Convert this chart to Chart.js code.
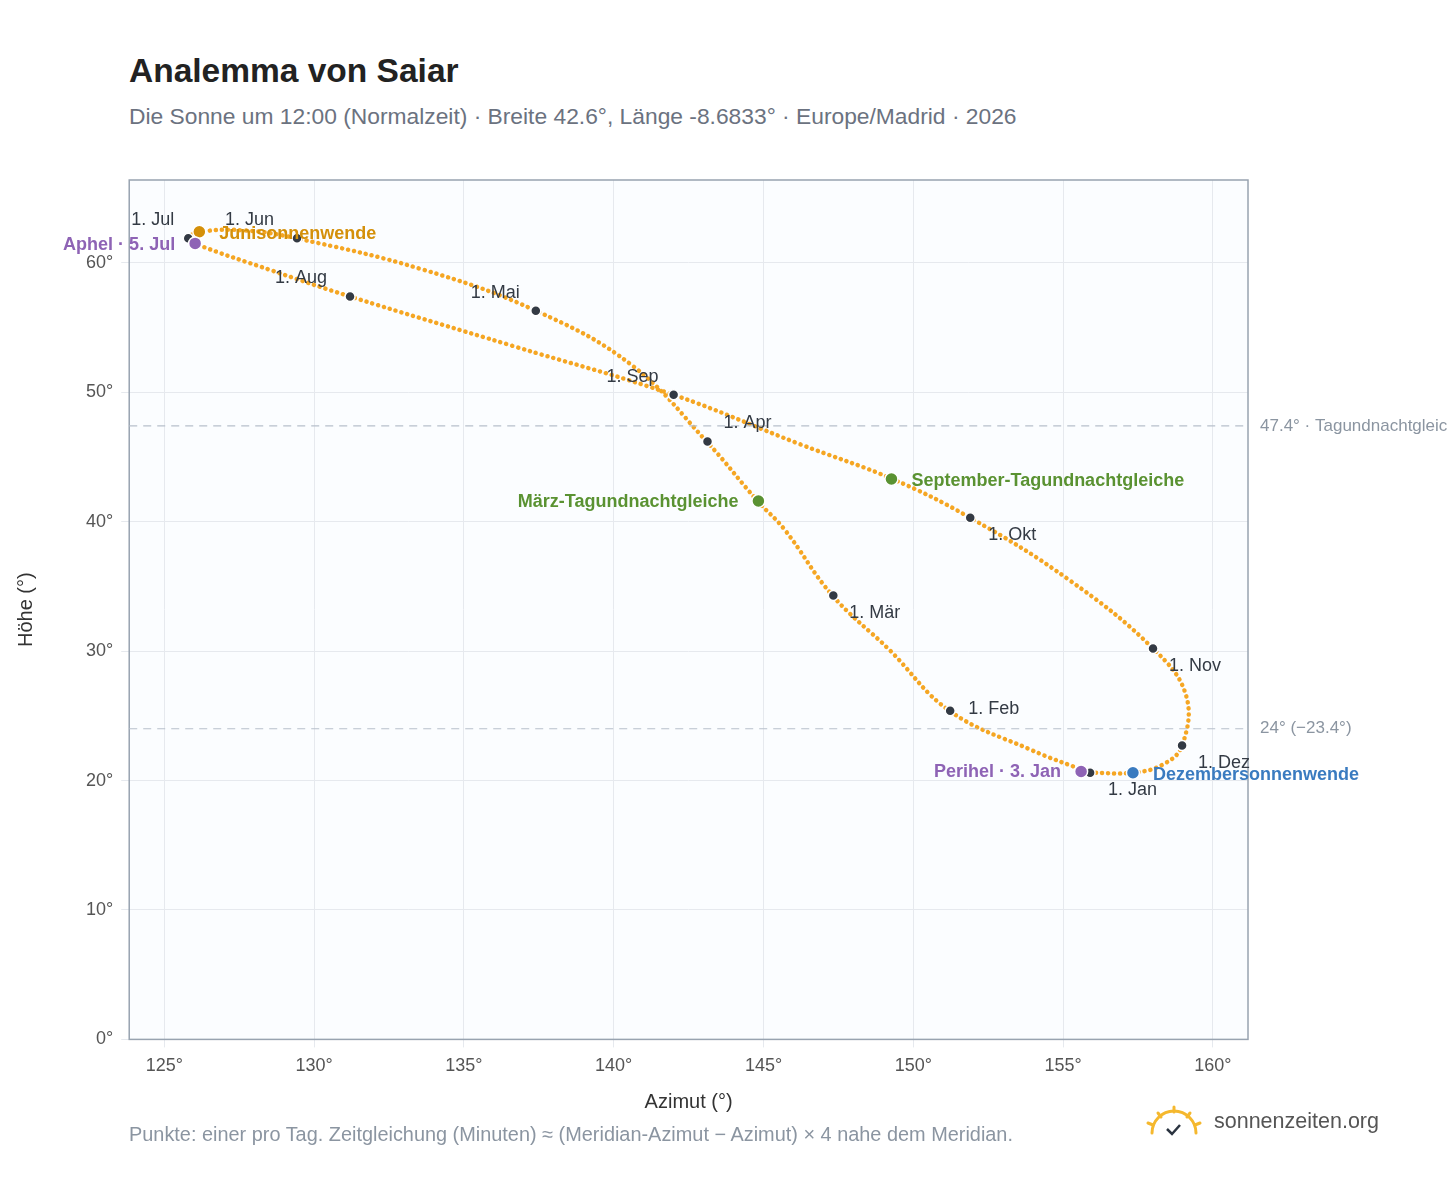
<!DOCTYPE html>
<html><head><meta charset="utf-8">
<script src="https://cdn.jsdelivr.net/npm/chart.js@4"></script>
<style>
body{margin:0;width:1448px;height:1188px;background:#fff;font-family:"Liberation Sans",Arial,sans-serif;position:relative;overflow:hidden}
#t{position:absolute;left:129px;top:52px;font-size:33.5px;font-weight:bold;color:#222}
#s{position:absolute;left:129px;top:103px;font-size:22.8px;color:#6b7280}
#c{position:absolute;left:0;top:150px;width:1448px;height:980px}
#f{position:absolute;left:129px;top:1123px;font-size:19.9px;color:#8b95a1}
#l{position:absolute;left:1146px;top:1105px;font-size:21.5px;color:#555}
</style></head><body>
<div id="t">Analemma von Saiar</div>
<div id="s">Die Sonne um 12:00 (Normalzeit) · Breite 42.6°, Länge -8.6833° · Europe/Madrid · 2026</div>
<div id="c"><canvas id="cv"></canvas></div>
<div id="f">Punkte: einer pro Tag. Zeitgleichung (Minuten) ≈ (Meridian-Azimut − Azimut) × 4 nahe dem Meridian.</div>
<div id="l"><svg width="56" height="34" style="vertical-align:middle"><g stroke="#f5b82e" stroke-width="3" stroke-linecap="round" fill="none"><path d="M6 28 A22 22 0 0 1 50 28"/><line x1="28" y1="2" x2="28" y2="7"/><line x1="12" y1="8" x2="15" y2="12"/><line x1="44" y1="8" x2="41" y2="12"/><line x1="2" y1="18" x2="7" y2="20"/><line x1="54" y1="18" x2="49" y2="20"/></g><path d="M21 24 L26 29 L34 20" stroke="#2b3440" stroke-width="2.5" fill="none"/></svg><span style="margin-left:12px">sonnenzeiten.org</span></div>
<script>
const azimuth=[155.9,153.9,151.2,149.2,147.3,145.7,144.8,143.1,140.6,137.4,133.6,129.4,127.7,126.2,125.8,126.0,128.6,131.2,136.6,142.0,146.2,149.3,151.9,155.2,158.0,159.1,158.97,158.3,157.3,156.0];
const altitude=[20.6,22.4,25.4,30.1,34.3,39.4,41.6,46.2,52.1,56.3,59.5,61.9,62.5,62.4,61.9,61.5,59.4,57.4,53.6,49.8,46.0,43.3,40.3,35.5,30.2,26.6,22.7,21.2,20.6,20.6];
const monthNames=["1. Jan","1. Feb","1. Mär","1. Apr","1. Mai","1. Jun","1. Jul","1. Aug","1. Sep","1. Okt","1. Nov","1. Dez"];
const monthAz=[155.9,151.23,147.33,143.13,137.4,129.43,125.8,131.2,142.0,151.9,158.0,158.97];
const monthAlt=[20.6,25.4,34.3,46.2,56.3,61.9,61.9,57.4,49.8,40.3,30.2,22.7];
const specialNames=["Junisonnenwende","Aphel · 5. Jul","März-Tagundnachtgleiche","September-Tagundnachtgleiche","Dezembersonnenwende","Perihel · 3. Jan"];
const specialAz=[126.17,126.03,144.83,149.27,157.33,155.6];
const specialAlt=[62.4,61.5,41.6,43.3,20.6,20.7];
const specialColors=["#d4900a","#8e63b5","#5a9232","#5a9232","#3a7bc0","#8e63b5"];
const refLines=[47.4,24];
const refLabels=["47.4° · Tagundnachtgleiche","24° (−23.4°)"];
const monthOff=[[18,17,'left'],[18,-2,'left'],[16,18,'left'],[16,-18,'left'],[-16,-18,'right'],[-72,-18,'left'],[-14,-18,'right'],[-75,-18,'left'],[-15,-18,'right'],[18,17,'left'],[16,18,'left'],[16,17,'left']];
const specOff=[[20,2,'left'],[-20,2,'right'],[-20,1,'right'],[20,2,'left'],[20,2,'left'],[-20,1,'right']];
const deco={id:'deco',
 beforeDraw(c){const a=c.chartArea,x=c.ctx;x.save();x.fillStyle='#fbfdff';x.fillRect(a.left,a.top,a.width,a.height);x.restore();},
 afterDatasetsDraw(c){const a=c.chartArea,x=c.ctx,sx=c.scales.x,sy=c.scales.y;x.save();
  x.strokeStyle='#98a3b0';x.lineWidth=1.5;x.strokeRect(a.left,a.top,a.width,a.height);
  x.font='17px "Liberation Sans",Arial';x.textBaseline='middle';
  refLines.forEach((v,i)=>{const py=sy.getPixelForValue(v);x.strokeStyle='#b8c0cb';x.setLineDash([8,6]);x.lineWidth=1.2;x.beginPath();x.moveTo(a.left,py);x.lineTo(a.right,py);x.stroke();x.setLineDash([]);x.fillStyle='#8b95a1';x.textAlign='left';x.fillText(refLabels[i],a.right+12,py);});
  x.font='18px "Liberation Sans",Arial';x.fillStyle='#333a44';
  monthNames.forEach((n,i)=>{const px=sx.getPixelForValue(monthAz[i]),py=sy.getPixelForValue(monthAlt[i]);const o=monthOff[i];x.textAlign=o[2];x.fillText(n,px+o[0],py+o[1]);});
  x.font='bold 18px "Liberation Sans",Arial';
  specialNames.forEach((n,i)=>{const px=sx.getPixelForValue(specialAz[i]),py=sy.getPixelForValue(specialAlt[i]);const o=specOff[i];x.textAlign=o[2];x.fillStyle=specialColors[i];x.fillText(n,px+o[0],py+o[1]);});
  x.restore();}};
new Chart(document.getElementById('cv'),{type:'scatter',
 data:{datasets:[
  {order:3,data:azimuth.map((v,i)=>({x:v,y:altitude[i]})),showLine:true,tension:0.4,pointRadius:0,borderColor:'#f5a623',borderWidth:4.5,borderDash:[0.1,6],borderCapStyle:'round'},
  {order:2,data:monthAz.map((v,i)=>({x:v,y:monthAlt[i]})),pointRadius:5,backgroundColor:'#333a44',borderColor:'#fff',borderWidth:1.5},
  {order:1,data:specialAz.map((v,i)=>({x:v,y:specialAlt[i]})),pointRadius:6.5,backgroundColor:specialColors,borderColor:'#fff',borderWidth:1.5}]},
 options:{responsive:true,maintainAspectRatio:false,animation:false,
  layout:{padding:{left:10,right:200,top:30,bottom:12}},
  plugins:{legend:{display:false},tooltip:{enabled:false}},
  scales:{
   x:{type:'linear',min:123.83,max:161.17,afterBuildTicks(s){s.ticks=[125,130,135,140,145,150,155,160].map(v=>({value:v}));},
      grid:{color:'#e6e9ee'},border:{display:false},
      ticks:{padding:8,color:'#555',font:{size:18,family:'"Liberation Sans",Arial'},callback:v=>v+'°'},
      title:{display:true,text:'Azimut (°)',color:'#333',padding:{top:5,bottom:4},font:{size:20,family:'"Liberation Sans",Arial'}}},
   y:{min:0,max:66.4,afterBuildTicks(s){s.ticks=[0,10,20,30,40,50,60].map(v=>({value:v}));},
      grid:{color:'#e6e9ee'},border:{display:false},
      ticks:{padding:8,color:'#555',font:{size:18,family:'"Liberation Sans",Arial'},callback:v=>v+'°'},
      title:{display:true,text:'Höhe (°)',color:'#333',padding:{top:4,bottom:40},font:{size:20,family:'"Liberation Sans",Arial'}}}}},
 plugins:[deco]});
</script></body></html>
